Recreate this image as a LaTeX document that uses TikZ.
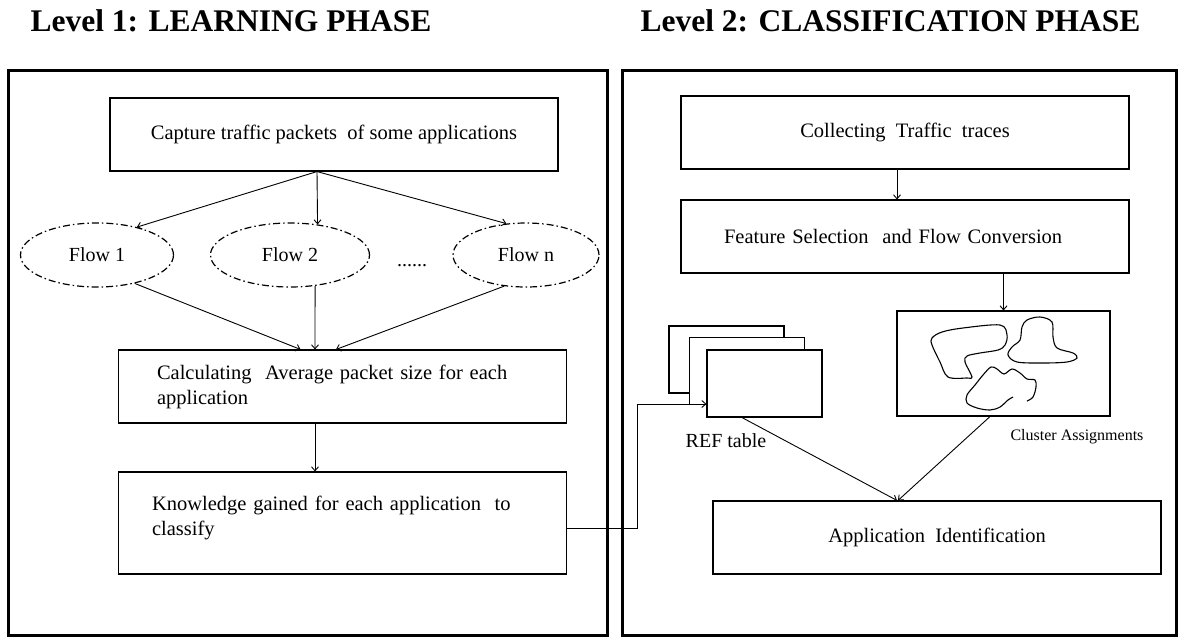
\documentclass[tikz,border=0pt]{standalone}
\usepackage{fontspec}
\setmainfont{Liberation Serif}
\usetikzlibrary{arrows.meta,shapes.geometric}

\begin{document}
\begin{tikzpicture}[
  x=1pt, y=-1pt,
  frame/.style={draw, line width=3pt, inner sep=0pt},
  box/.style={draw, line width=1.1pt, minimum width=448pt, minimum height=73pt,
              inner sep=0pt, font=\fontsize{20.5}{25}\selectfont},
  lbox/.style={box, align=left},
  flow/.style={draw, ellipse, line width=1.2pt, dash pattern=on 7pt off 3pt on 1.5pt off 3pt,
               minimum height=64pt, inner sep=0pt, font=\fontsize{20}{24}\selectfont},
  sheet/.style={draw, fill=white, line width=1.1pt, minimum width=115pt, minimum height=67pt},
  head/.style={anchor=west, font=\fontsize{31.5}{34}\selectfont\bfseries},
  lbl/.style={font=\fontsize{20}{24}\selectfont},
  blob/.style={line width=1.1pt},
  arr/.style={-{Straight Barb[length=4pt,width=7pt]}, line width=0.9pt}
]
\useasboundingbox (0,0) rectangle (1180,637);

\node[head] (h1) at (27,21) {Level 1: LEARNING PHASE};
\node[head] (h2) at (637,21) {Level 2: CLASSIFICATION PHASE};

\node[frame, minimum width=599pt, minimum height=565pt] (left) at (307.5,352.5) {};
\node[frame, minimum width=554pt, minimum height=565pt] (right) at (899,352.5) {};

% learning phase
\node[box] (cap) at (334,134.5) {Capture traffic packets\ \ of some applications};
\node[flow, minimum width=153pt] (f1) at (97,255) {Flow 1};
\node[flow, minimum width=159pt] (f2) at (290,255) {Flow 2};
\node[flow, minimum width=146pt] (fn) at (526,255) {Flow n};
\node[lbl] (dots) at (412,266) {......};
\node[lbox, inner xsep=38pt, text width=371pt] (calc) at (342.5,386.5)
  {Calculating\ \ Average packet size for each\\application};
\node[lbox, inner xsep=33pt, text width=381pt, minimum height=102pt] (know) at (342.5,523)
  {Knowledge gained for each application\ \ to\\classify\\[-10pt]\mbox{}};

\draw[arr] ([xshift=-17pt]cap.south) -- (f1.35);
\draw[arr] ([xshift=-17pt]cap.south) -- (f2.48);
\draw[arr] ([xshift=-17pt]cap.south) -- (fn.122);
\draw[arr] (f1.-37) -- ([xshift=-42pt]calc.north);
\draw[arr] (f2.-51) -- ([xshift=-27.5pt]calc.north);
\draw[arr] (fn.235) -- ([xshift=-6.5pt]calc.north);
\draw[arr] ([xshift=-27.5pt]calc.south) -- ([xshift=-27.5pt]know.north);

% classification phase
\node[box] (coll) at (905,132.5) {Collecting\ \ Traffic\ \ traces};
\node[lbox, inner xsep=43pt, text width=362pt] (feat) at (905,236.5)
  {Feature Selection\ \ and Flow Conversion};
\node[draw, line width=1.1pt, minimum width=213pt, minimum height=105pt] (clus) at (1003.5,363.5) {};
\node[font=\fontsize{16}{18}\selectfont] (cluslbl) at (1077,437) {Cluster Assignments};
\node[sheet] (sheetA) at (726.5,359.5) {};
\node[sheet] (sheetB) at (747,371) {};
\node[sheet] (sheetC) at (764.5,383.5) {};
\node[lbl] (reflbl) at (726,441) {REF table};
\node[box] (app) at (937,537.5) {Application\ \ Identification};

\draw[blob] plot[smooth cycle, tension=0.55] coordinates {(932,338) (942,332) (963,328) (1000,325)
  (1007,335) (1005,345) (998,350) (980,353) (967,356) (965,362) (972,377) (967,378) (948,377)
  (940,362) (932,345)};
\draw[blob] plot[smooth cycle, tension=0.55] coordinates {(1027,320) (1040,317) (1052,322) (1053,337)
  (1057,348) (1073,353) (1077,358) (1067,362) (1043,363) (1017,362) (1008,355) (1012,347)
  (1020,340) (1022,327)};
\draw[blob] plot[smooth, tension=0.55] coordinates {(1027,401) (1033,397) (1036,387) (1035,380)
  (1027,379) (1020,373) (1012,369) (1004,374) (997,369) (991,367) (983,375) (975,385)
  (967,395) (967,403) (977,408) (990,410) (1000,407) (1008,400) (1013,397)};

\coordinate (bend) at (637,528);
\draw[arr] ([xshift=-8pt]coll.south) -- ([xshift=-8pt]feat.north);
\draw[arr] (feat.south -| clus.north) -- (clus.north);
\draw[arr] ([yshift=-5pt]know.east) -- (bend) |- ([yshift=-20.5pt]sheetC.west);
\draw[arr] ([xshift=-22.5pt]sheetC.south) -- ([xshift=-40pt]app.north);
\draw[arr] ([xshift=-13.5pt]clus.south) -- ([xshift=-39pt]app.north);
\end{tikzpicture}
\end{document}
